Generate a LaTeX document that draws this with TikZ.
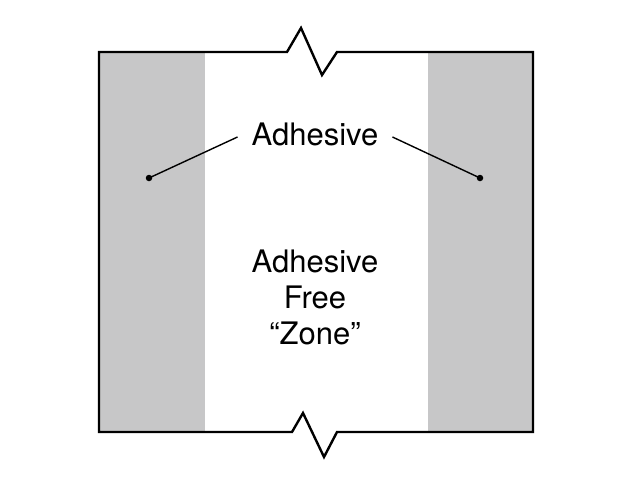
\documentclass[tikz,border=0pt]{standalone}
\usepackage{fontspec}
\setmainfont{TeX Gyre Heros}
\begin{document}
\begin{tikzpicture}[%
            x=1pt, y=-1pt,
            mydot/.style={shape=circle, inner sep=0pt, minimum size=6.5pt, fill=black},
            mylabel/.style={font=\fontsize{31}{36}\selectfont, align=center, inner sep=0pt}
        ]
        \useasboundingbox (0,0) rectangle (640,480);

        % corners of the sheet
        \coordinate (TL) at (99,52);
        \coordinate (TR) at (533,52);
        \coordinate (BR) at (533,432);
        \coordinate (BL) at (99,432);

        % adhesive strips
        \fill [color={rgb,255:red,199;green,199;blue,200}] (TL) rectangle (205,432);
        \fill [color={rgb,255:red,199;green,199;blue,200}] (428,52) rectangle (BR);

        % outline with break marks
        \draw [line width=2.4pt, line join=miter]
              (TL) -- (287,52) -- (301,28) -- (322,75) -- (337,52) --
              (TR) -- (BR) --
              (337,432) -- (324,457) -- (303,413) -- (292,432) --
              (BL) -- cycle;

        % labels
        \node [mylabel, inner xsep=14pt] (adh) at (315,134) {Adhesive};
        \node [mylabel] (free) at (315,297) {Adhesive\\Free\\“Zone”};

        \node [mydot] (left)  at (149,178) {};
        \node [mydot] (right) at (480,178) {};

        \draw [line width=1.4pt] ([yshift=-3]adh.west) -- (left.center);
        \draw [line width=1.4pt] ([yshift=-3]adh.east) -- (right.center);
    \end{tikzpicture}
\end{document}
